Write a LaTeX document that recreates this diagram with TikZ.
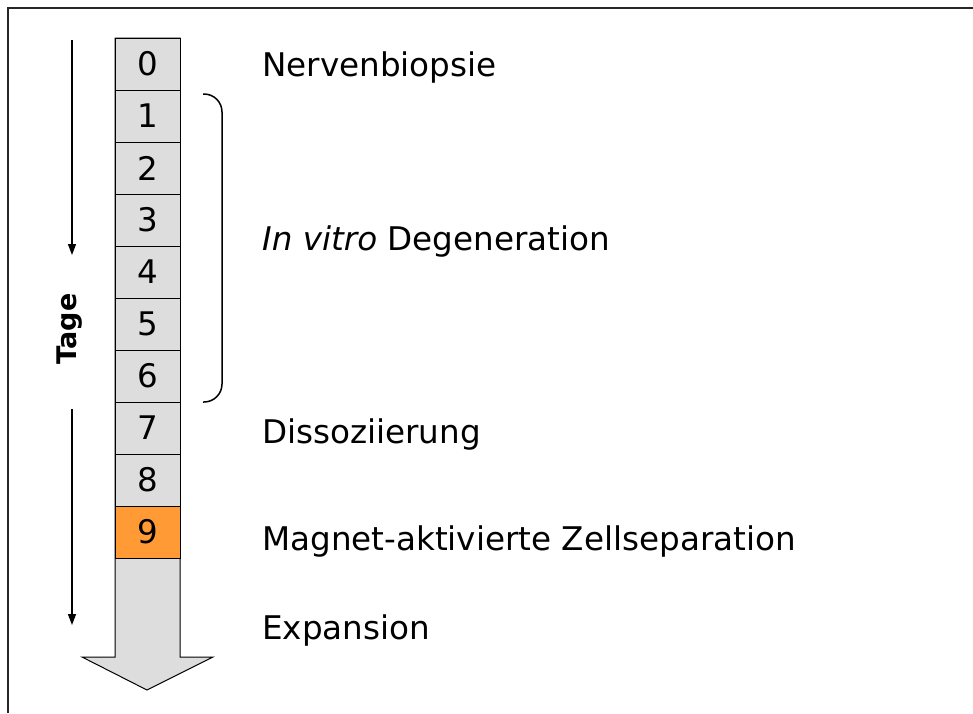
\documentclass[tikz,border=0pt]{standalone}
\usepackage{fontspec}
\setmainfont{DejaVu Sans}
\usetikzlibrary{arrows.meta}
\definecolor{cellgray}{HTML}{DDDDDD}
\definecolor{cellorange}{HTML}{FF9A35}
\tikzset{
  px/.style={x=1pt,y=-1pt},
  daybox/.style={draw=black, line width=1pt, fill=cellgray, minimum width=65pt,
    minimum height=52pt, inner sep=0pt, font=\fontsize{32.5}{36}\selectfont},
  stagelabel/.style={anchor=base west, inner sep=0pt, font=\fontsize{32.6}{36}\selectfont},
  timearrow/.style={line width=1.3pt, -{Triangle[length=11pt,width=8pt]}},
  bracket/.style={line width=1.5pt, rounded corners=18pt},
}
\begin{document}
\begin{tikzpicture}[px]
  \useasboundingbox (0,0) rectangle (973,713);
  % frame
  \draw[line width=1.8pt, black!85] (8,713) -- (8,8) -- (973,8);

  % big downward arrow behind the day cells
  \draw[line width=1pt, fill=cellgray]
    (115,38) -- (115,657) -- (82,657) -- (147,690) -- (213,657) -- (180,657) -- (180,38) -- cycle;

  % day cells
  \foreach \d in {0,...,8} {
    \node[daybox] (c\d) at (147.5, 64+52*\d) {\d};
  }
  \node[daybox, fill=cellorange] (c9) at (147.5, 532) {9};

  % stage labels
  \node[stagelabel] (l0) at (262,76) {Nervenbiopsie};
  \node[stagelabel] (l1) at (262,250) {\textit{In vitro} Degeneration};
  \node[stagelabel] (l7) at (262,443) {Dissoziierung};
  \node[stagelabel] (l9) at (262,550) {Magnet-aktivierte Zellseparation};
  \node[stagelabel] (lx) at (262,639) {Expansion};

  % bracket for days 1-6
  \coordinate (bt) at (203,94);
  \coordinate (bb) at (203,402);
  \draw[bracket] (bt) -- (222,94) -- (222,402) -- (bb);

  % time axis
  \coordinate (a1s) at (72,40);
  \coordinate (a1e) at (72,255);
  \coordinate (a2s) at (72,409);
  \coordinate (a2e) at (72,625);
  \draw[timearrow] (a1s) -- (a1e);
  \draw[timearrow] (a2s) -- (a2e);
  \node[rotate=90, font=\fontsize{27}{30}\selectfont\bfseries] (tage) at (70,329) {Tage};
\end{tikzpicture}
\end{document}
